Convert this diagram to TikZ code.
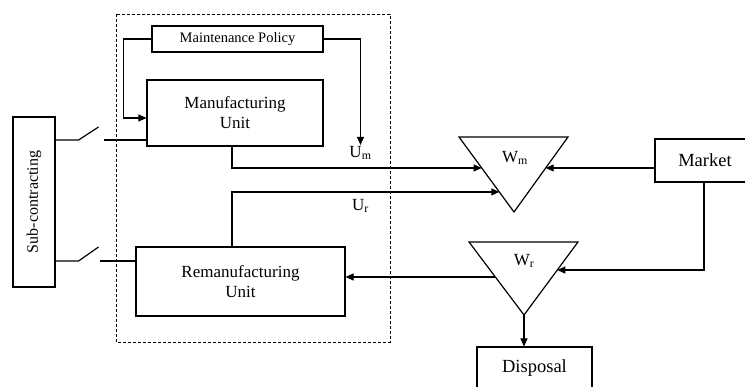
\documentclass[tikz,border=0pt]{standalone}
\usepackage{fontspec}
\setmainfont{Liberation Serif}
\usetikzlibrary{arrows.meta, calc, positioning}
\tikzset{
  blk/.style={draw, line width=1.1pt, align=center, inner sep=2pt},
  ln/.style={line width=1.2pt},
  arr/.style={-{Triangle[length=8pt, width=7pt]}, line width=1.1pt},
  bound/.style={dash pattern=on 3pt off 2pt, line width=0.8pt},
  lbl/.style={inner sep=1pt},
}
\begin{document}
\begin{tikzpicture}[x=1pt, y=-1pt, every node/.style={font=\fontsize{17}{20}\selectfont}]
  \useasboundingbox (0,0) rectangle (745,387);
  \clip (0,0) rectangle (745,387);
  % controlled production system
  \draw[bound] (116,14) rectangle (390,342);
  % blocks
  \node[blk, minimum width=171pt, minimum height=26pt, font=\fontsize{14.5}{17}\selectfont] (policy) at (237.5,39) {Maintenance Policy};
  \node[blk, minimum width=176pt, minimum height=66pt] (manuf) at (235,113) {Manufacturing\\Unit};
  \node[blk, minimum width=209pt, minimum height=69pt] (reman) at (240.5,281.5) {Remanufacturing\\Unit};
  \node[blk, minimum width=42pt, minimum height=170pt, font=\fontsize{16}{19}\selectfont] (subc) at (34,202) {\rotatebox{90}{Sub-contracting}};
  \node[blk, minimum width=100pt, minimum height=43pt, font=\fontsize{18.5}{21}\selectfont] (market) at (705,160.5) {Market};
  \node[blk, minimum width=115pt, minimum height=42pt, font=\fontsize{18.5}{21}\selectfont] (disp) at (534.5,368) {Disposal};
  % stocks
  \coordinate (wmL) at (459,137); \coordinate (wmR) at (568,137); \coordinate (wmB) at (514,212);
  \coordinate (wrL) at (469,242); \coordinate (wrR) at (578,242); \coordinate (wrB) at (524,315);
  \draw[ln] (wmL) -- (wmR) -- (wmB) -- cycle;
  \draw[ln] (wrL) -- (wrR) -- (wrB) -- cycle;
  \node[lbl] (wm) at (515,158) {W\textsubscript{m}};
  \node[lbl] (wr) at (524,261) {W\textsubscript{r}};
  \coordinate (wmin1) at ($(wmL)!0.413!(wmB)$);
  \coordinate (wmin2) at ($(wmL)!0.733!(wmB)$);
  \coordinate (wmin3) at ($(wmR)!0.413!(wmB)$);
  \coordinate (wrin) at ($(wrR)!0.384!(wrB)$);
  \coordinate (wrout) at ($(wrL)!0.479!(wrB)$);
  % rates
  \node[lbl] (um) at (360.5,153) {U\textsubscript{m}};
  \node[lbl] (ur) at (360.5,206) {U\textsubscript{r}};
  % maintenance feedback
  \draw[arr] (policy.west) -- ++(-28,0) |- ($(manuf.west)+(0,5)$);
  \draw[arr] (policy.east) -| (um.north);
  % product flows
  \draw[arr] ($(manuf.south)+(-3,0)$) |- (wmin1);
  \draw[arr] ($(reman.north)+(-8.5,0)$) |- (wmin2);
  \draw[arr] (wmin3 -| market.west) -- (wmin3);
  \draw[arr] ($(market.south)+(-1,0)$) |- (wrin);
  \draw[arr] (wrout) -- (wrout -| reman.east);
  \draw[arr] (wrB) -- (wrB |- disp.north);
  % sub-contracting switches
  \coordinate (s1) at ($(subc.east)+(0,-62)$);
  \coordinate (s2) at ($(subc.east)+(0,59)$);
  \draw[ln] (s1) -- ++(23,0) -- ++(20,-13);
  \draw[ln] ($(s1)+(48,0)$) -- (s1 -| manuf.west);
  \draw[ln] (s2) -- ++(23,0) -- ++(20,-14);
  \draw[line width=2.6pt] ($(s2)+(44,0)$) -- (s2 -| reman.west);
\end{tikzpicture}
\end{document}
